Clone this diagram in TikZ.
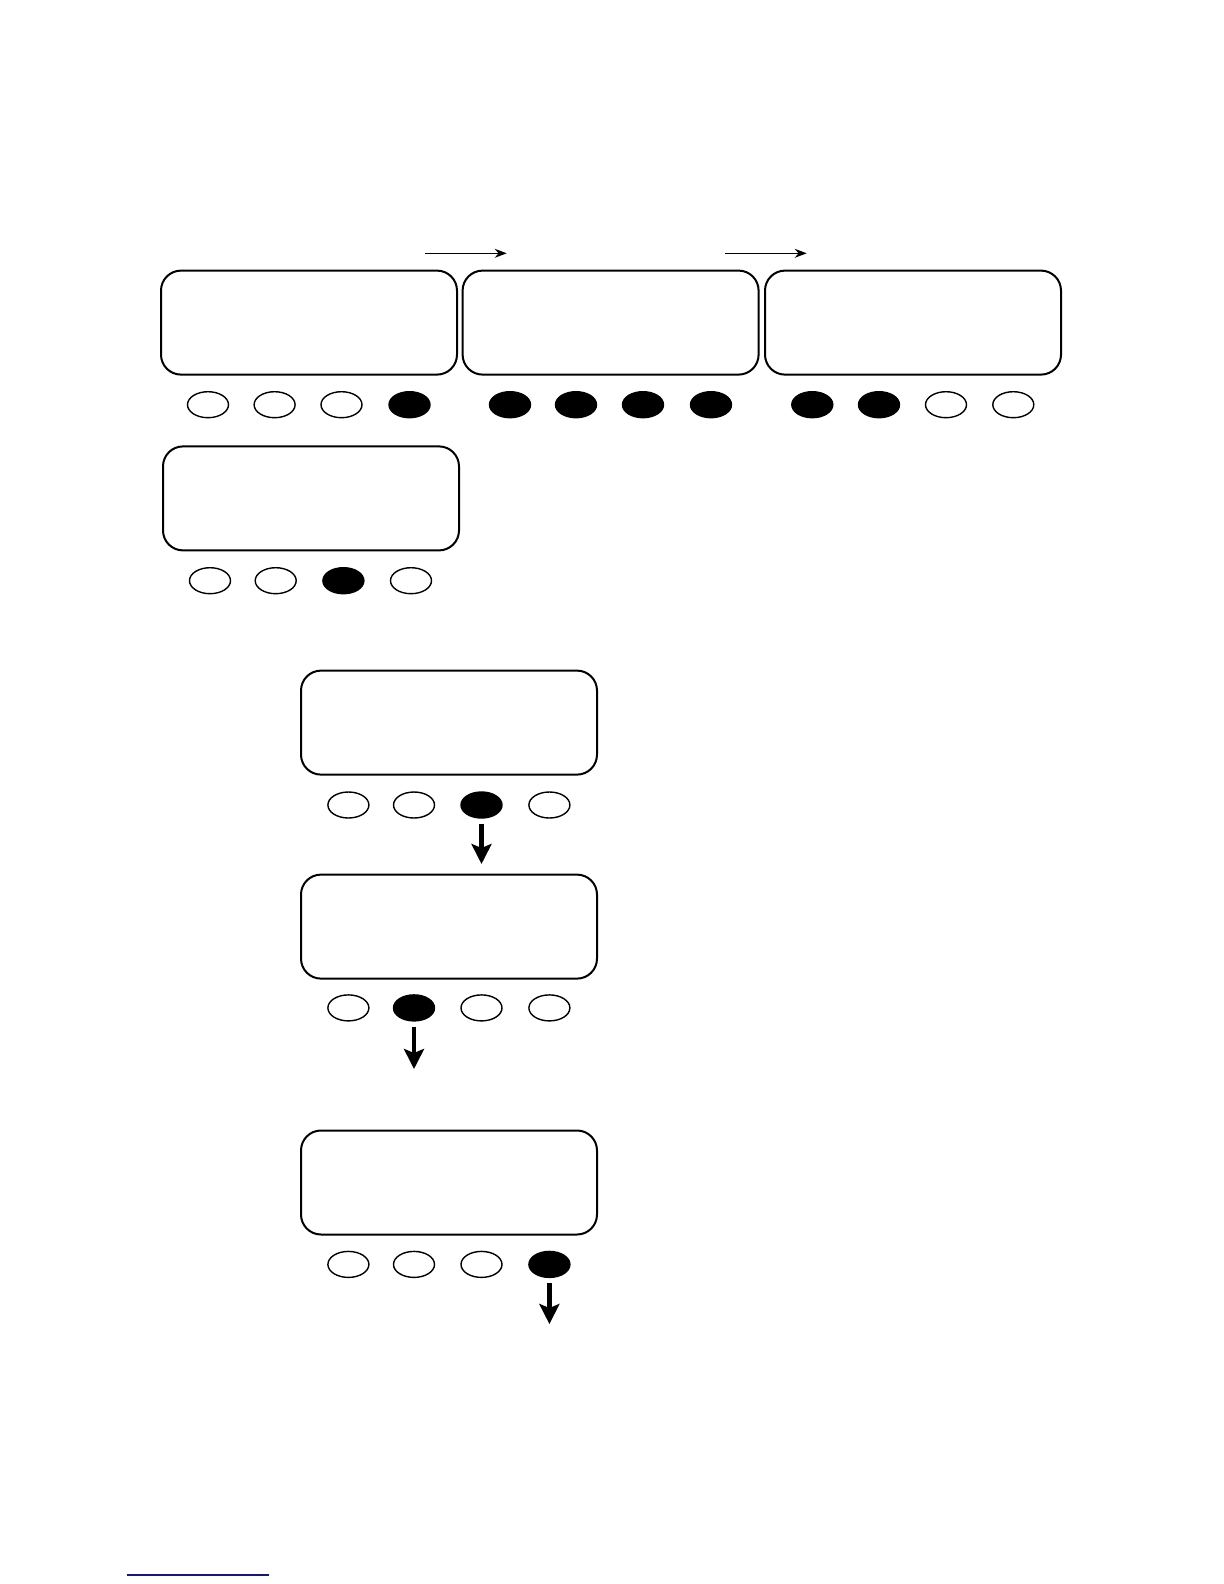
\documentclass[tikz,border=0pt]{standalone}
\usetikzlibrary{arrows.meta,shapes.geometric}
\definecolor{linkblue}{RGB}{20,20,140}
\begin{document}
\begin{tikzpicture}[x=0.5pt,y=-0.5pt,
 screen/.style={draw, line width=1pt, rounded corners=10pt, minimum width=148pt, minimum height=52pt, inner sep=0pt},
 btn/.style={draw, ellipse, line width=0.7pt, minimum width=20.5pt, minimum height=13pt, inner sep=0pt},
 on/.style={btn, fill=black},
 thinarrow/.style={-{Stealth[length=6pt,width=4.5pt]}, line width=0.65pt},
 push/.style={-{Stealth[length=10pt,width=10pt,inset=2pt]}, line width=2.4pt}]
\useasboundingbox (0,0) rectangle (1224,1584);

% row 1
\node[screen] (s1) at (309,322.6) {};
\node[screen] (s2) at (610.6,322.6) {};
\node[screen] (s3) at (913,322.6) {};
\node[btn] (e11) at (208,404.7) {};
\node[btn] (e12) at (274.6,404.7) {};
\node[btn] (e13) at (341.5,404.7) {};
\node[on]  (e14) at (409.5,404.7) {};
\node[on]  (e21) at (510,404.7) {};
\node[on]  (e22) at (576,404.7) {};
\node[on]  (e23) at (643,404.7) {};
\node[on]  (e24) at (711,404.7) {};
\node[on]  (e31) at (812.3,404.7) {};
\node[on]  (e32) at (879,404.7) {};
\node[btn] (e33) at (946,404.7) {};
\node[btn] (e34) at (1013.3,404.7) {};
\coordinate (t1a) at (425,253.3);
\coordinate (t1b) at (506.7,253.3);
\coordinate (t2a) at (725,253.3);
\coordinate (t2b) at (806.7,253.3);
\draw[thinarrow] (t1a) -- (t1b);
\draw[thinarrow] (t2a) -- (t2b);

% row 2
\node[screen] (s4) at (311,498.4) {};
\node[btn] (e41) at (210,580.7) {};
\node[btn] (e42) at (275.7,580.7) {};
\node[on]  (e43) at (343.4,580.7) {};
\node[btn] (e44) at (411,580.7) {};

% column
\node[screen] (s5) at (449,722.6) {};
\node[btn] (e51) at (348.4,805) {};
\node[btn] (e52) at (414,805) {};
\node[on]  (e53) at (481.5,805) {};
\node[btn] (e54) at (549.4,805) {};
\coordinate (p1) at (481.5,864);
\draw[push, shorten <=2.5pt] (e53.south) -- (p1);

\node[screen] (s6) at (449,926.6) {};
\node[btn] (e61) at (348.4,1007.9) {};
\node[on]  (e62) at (414,1007.9) {};
\node[btn] (e63) at (481.5,1007.9) {};
\node[btn] (e64) at (549.4,1007.9) {};
\coordinate (p2) at (414,1069);
\draw[push, shorten <=2.5pt] (e62.south) -- (p2);

\node[screen] (s7) at (449,1182.5) {};
\node[btn] (e71) at (348.4,1264.4) {};
\node[btn] (e72) at (414,1264.4) {};
\node[btn] (e73) at (481.5,1264.4) {};
\node[on]  (e74) at (549.4,1264.4) {};
\coordinate (p3) at (549.4,1324);
\draw[push, shorten <=2.5pt] (e74.south) -- (p3);

% link underline
\coordinate (la) at (126.7,1575);
\coordinate (lb) at (269,1575);
\draw[linkblue, line width=0.7pt] (la) -- (lb);
\end{tikzpicture}
\end{document}
